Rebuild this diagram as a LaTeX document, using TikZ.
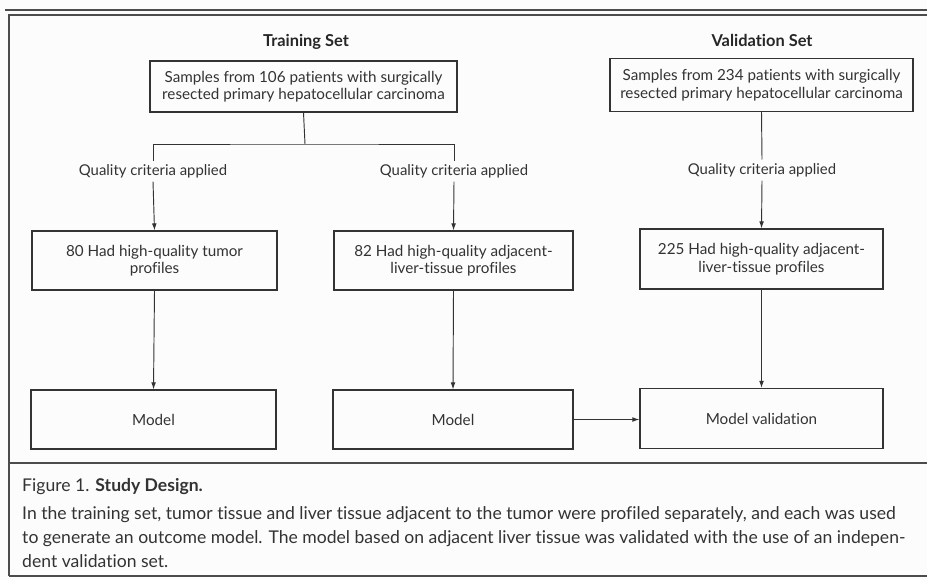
\documentclass[tikz,border=0pt]{standalone}
\usepackage{fontspec}
\setmainfont{Lato}[RawFeature={-liga}]
\usetikzlibrary{arrows.meta}

\tikzset{
  box/.style={draw=black!80, line width=0.9pt, align=center, inner sep=0pt,
              font=\fontsize{13}{15}\selectfont, text=black!80},
  crit/.style={font=\fontsize{12.7}{14}\selectfont, text=black!80, inner sep=3pt},
  settitle/.style={font=\fontsize{14}{16}\selectfont\bfseries, text=black!85},
  link/.style={draw=black!80, line width=0.8pt},
  >={Latex[length=6pt,width=4pt]}
}

\begin{document}
\begin{tikzpicture}[x=0.03cm, y=-0.03cm]
            \useasboundingbox (0,0) rectangle (927,580);
            \fill[black!1] (0,0) rectangle (927,580);
            % frame
            \draw[black!70, line width=1.2pt] (5,10) -- (927,10);
            \draw[black!70, line width=0.9pt] (9,576) -- (9,15) -- (927,15);
            \draw[black!70, line width=0.9pt] (9,463) -- (927,463);
            \draw[black!70, line width=0.9pt] (9,576) -- (927,576);

            % training set
            \node[settitle] (ttitle) at (306,42) {Training Set};
            \node[box, minimum width=9.21cm, minimum height=1.53cm] (tsamp) at (303.5,86.5)
                {Samples from 106 patients with surgically\\resected primary hepatocellular carcinoma};
            \coordinate (split) at (305,144);
            \node[crit] (q1) at (153,171) {Quality criteria applied};
            \node[crit] (q2) at (454,171) {Quality criteria applied};
            \node[box, minimum width=7.35cm, minimum height=1.77cm] (tumor) at (154.5,260.5)
                {80 Had high-quality tumor\\profiles};
            \node[box, minimum width=7.17cm, minimum height=1.77cm] (adj) at (453.5,260.5)
                {82 Had high-quality adjacent-\\liver-tissue profiles};
            \node[box, minimum width=7.35cm, minimum height=1.77cm] (model1) at (153.5,419.5) {Model};
            \node[box, minimum width=7.2cm, minimum height=1.77cm] (model2) at (453,419.5) {Model};

            % validation set
            \node[settitle] (vtitle) at (762,40) {Validation Set};
            \node[box, minimum width=9.09cm, minimum height=1.59cm] (vsamp) at (761.5,85)
                {Samples from 234 patients with surgically\\resected primary hepatocellular carcinoma};
            \node[crit] (q3) at (762,170) {Quality criteria applied};
            \node[box, minimum width=7.29cm, minimum height=1.8cm] (vadj) at (761.5,259)
                {225 Had high-quality adjacent-\\liver-tissue profiles};
            \node[box, minimum width=7.29cm, minimum height=1.8cm] (valid) at (761.5,418.5) {Model validation};

            % connectors
            \draw[link] (tsamp.south) -- (split);
            \draw[link] (q1.north) |- (split) -| (q2.north);
            \draw[link,->] (q1.south) -- (tumor.north);
            \draw[link,->] (q2.south) -- (adj.north);
            \draw[link] (vsamp.south) -- (q3.north);
            \draw[link,->] (q3.south) -- (vadj.north);
            \draw[link,->] (tumor.south) -- (model1.north);
            \draw[link,->] (adj.south) -- (model2.north);
            \draw[link,->] (vadj.south) -- (valid.north);
            \draw[link,->] (model2.east) -- (model2.east -| valid.west);

            % caption
            \node[anchor=west, inner sep=0pt, text=black!80, font=\fontsize{15}{20.5}\selectfont] (capt) at (22,487)
                {Figure 1. \textbf{Study Design.}};
            \node[anchor=north west, inner sep=0pt, align=left, text=black!80,
                  font=\fontsize{15}{20.8}\selectfont] (capbody) at (22,506)
                {In the training set, tumor tissue and liver tissue adjacent to the tumor were profiled separately, and each was used\\
                 to generate an outcome model. The model based on adjacent liver tissue was validated with the use of an indepen-\\
                 dent validation set.};
        \end{tikzpicture}
\end{document}
